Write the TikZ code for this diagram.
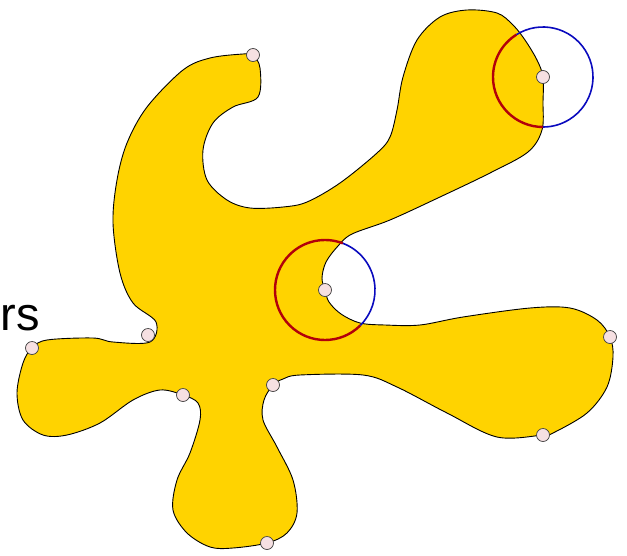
\documentclass[tikz,border=0pt]{standalone}
\usepackage{fontspec}
\usepackage{xcolor}
\usepackage{tikz}
\usetikzlibrary{calc}
\newfontfamily\lblfont{Liberation Sans}
\definecolor{blobyellow}{RGB}{255,211,0}
\definecolor{ptpink}{RGB}{246,224,226}
\definecolor{arcred}{RGB}{178,0,10}
\definecolor{arcblue}{RGB}{10,10,190}

\begin{document}
\begin{tikzpicture}[x=1pt, y=-1pt, line join=round,
  pt/.style={circle, draw=black!75, fill=ptpink, line width=0.7pt, minimum size=13pt, inner sep=0pt},
  inarc/.style={draw=arcred, line width=2.4pt},
  outarc/.style={draw=arcblue, line width=1.6pt}]
\useasboundingbox (0,0) rectangle (627,555);
% the blob
\draw[fill=blobyellow, line width=0.9pt] plot[smooth cycle, tension=0.55] coordinates {
  (253,55) (260,68) (258,97) (233,107) (213,123) (203,150) (207,180) (227,200)
  (250,208) (283,207) (307,202) (340,183) (377,153) (390,137) (397,110) (403,77)
  (417,40) (440,17) (467,10) (497,13) (513,25) (525,40) (537,60) (543,77)
  (543,102) (542,130) (528,152) (490,173) (440,197) (390,220) (352,234) (338,246)
  (326,262) (322,278) (325,290) (329,302) (341,314) (360,323) (385,325) (420,325)
  (463,317) (530,308) (570,308) (597,320) (610,337) (613,357) (607,387) (587,413)
  (553,433) (543,435) (497,437) (447,413) (397,387) (363,375) (300,375) (283,379)
  (273,385) (264,400) (263,420) (277,447) (293,480) (297,513) (287,533) (267,543)
  (233,548) (210,547) (187,533) (173,510) (177,480) (190,453) (200,420) (198,403)
  (183,395) (160,390) (133,400) (100,423) (67,435) (43,435) (23,420) (17,393)
  (23,363) (32,348) (47,340) (93,338) (113,342) (150,342) (156,322) (133,303)
  (120,273) (113,223) (117,180) (127,143) (147,107) (183,70) (210,58) (243,54)};
% points on the boundary
\foreach \x/\y/\n in {253/55/tip, 543/77/cup, 325/290/notch, 610/337/east, 543/435/southeast,
  273/385/neckr, 267/543/foot, 183/395/neckl, 32/348/west, 148/335/step}{
  \coordinate (\n) at (\x,\y);
}
% the two circles, split at the boundary
\draw[inarc] (cup) ++(90:50) arc[start angle=90, end angle=238, radius=50];
\draw[outarc] (cup) ++(238:50) arc[start angle=238, end angle=450, radius=50];
\draw[inarc] (notch) ++(45:50) arc[start angle=45, end angle=291, radius=50];
\draw[outarc] (notch) ++(291:50) arc[start angle=291, end angle=405, radius=50];
\foreach \n in {tip, cup, notch, east, southeast, neckr, foot, neckl, west, step}{
  \node[pt] (dot-\n) at (\n) {};
}
\node[font=\lblfont\fontsize{47}{52}\selectfont, anchor=base west, inner sep=0pt] (lbl) at (0.5,330) {rs};
\end{tikzpicture}
\end{document}
